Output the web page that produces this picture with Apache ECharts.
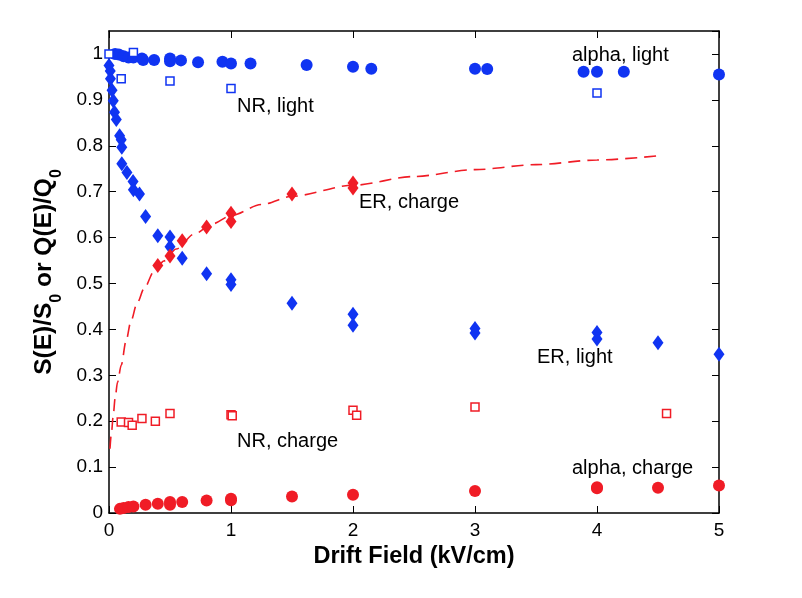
<!DOCTYPE html>
<html>
<head>
<meta charset="utf-8">
<script src="https://cdn.jsdelivr.net/npm/echarts@6/dist/echarts.min.js"></script>
<style>
html, body { margin: 0; padding: 0; background: #fff; }
#chart { width: 802px; height: 598px; }
</style>
</head>
<body>
<div id="chart"></div>
<script>
// values
var alphaLightX = [0.05, 0.08, 0.12, 0.16, 0.2, 0.27, 0.28, 0.37, 0.5, 0.5, 0.59, 0.73, 0.93, 1.0, 1.16, 1.62, 2.0, 2.15, 3.0, 3.1, 3.89, 4.0, 4.22, 5.0];
var alphaLightY = [1.0, 0.999, 0.995, 0.992, 0.992, 0.99, 0.987, 0.987, 0.99, 0.984, 0.986, 0.982, 0.983, 0.979, 0.979, 0.976, 0.972, 0.968, 0.968, 0.967, 0.961, 0.961, 0.961, 0.955];

var nrLightX = [0, 0.1, 0.2, 0.5, 1.0, 4.0];
var nrLightY = [1.0, 0.946, 1.003, 0.941, 0.925, 0.915];

var erLightX = [0, 0.01, 0.012, 0.025, 0.035, 0.045, 0.06, 0.087, 0.1, 0.105, 0.105, 0.147, 0.197, 0.2, 0.25, 0.3, 0.4, 0.5, 0.5, 0.6, 0.8, 1.0, 1.0, 1.5, 2.0, 2.0, 3.0, 3.0, 4.0, 4.0, 4.5, 5.0];
var erLightY = [0.975, 0.963, 0.946, 0.921, 0.898, 0.873, 0.857, 0.822, 0.813, 0.797, 0.761, 0.742, 0.722, 0.704, 0.695, 0.646, 0.604, 0.601, 0.58, 0.555, 0.521, 0.508, 0.498, 0.457, 0.433, 0.409, 0.402, 0.392, 0.393, 0.379, 0.371, 0.346];

var erChargeX = [0.4, 0.5, 0.6, 0.8, 1.0, 1.0, 1.5, 2.0, 2.0];
var erChargeY = [0.539, 0.56, 0.593, 0.623, 0.653, 0.635, 0.695, 0.719, 0.708];

var nrChargeX = [0.1, 0.16, 0.19, 0.27, 0.38, 0.5, 1.0, 1.01, 2.0, 2.03, 3.0, 4.57];
var nrChargeY = [0.198, 0.197, 0.191, 0.206, 0.2, 0.217, 0.214, 0.212, 0.224, 0.213, 0.231, 0.217];

var alphaChargeX = [0.09, 0.12, 0.16, 0.2, 0.3, 0.4, 0.5, 0.5, 0.6, 0.8, 1.0, 1.0, 1.5, 2.0, 3.0, 4.0, 4.0, 4.5, 5.0];
var alphaChargeY = [0.009, 0.011, 0.013, 0.014, 0.018, 0.02, 0.018, 0.024, 0.024, 0.027, 0.031, 0.028, 0.036, 0.04, 0.048, 0.056, 0.054, 0.055, 0.06];

// dashed ER charge curve, traced point by point
var fitX = [0.008, 0.02, 0.035, 0.05, 0.07, 0.1, 0.14, 0.18, 0.23, 0.29, 0.37, 0.45, 0.55, 0.7, 0.85, 1.0, 1.25, 1.5, 2.0, 2.5, 3.0, 3.5, 4.0, 4.5];
var fitY = [0.14, 0.175, 0.213, 0.25, 0.285, 0.322, 0.375, 0.418, 0.457, 0.49, 0.527, 0.549, 0.575, 0.608, 0.63, 0.648, 0.672, 0.69, 0.714, 0.733, 0.748, 0.759, 0.769, 0.778];

var xTicks = [0, 1, 2, 3, 4, 5];

function pairs(xs, ys) {
	var out = [];
	for (var i = 0; i < xs.length; i++) {
		out.push([xs[i], ys[i]]);
	}
	return out;
}

var blue = '#1034f2';
var red = '#f01c26';
var font = 'Liberation Sans, Arial, Helvetica, sans-serif';

function note(text, x, y) {
	return {
		type: 'text',
		style: {
			x: x,
			y: y,
			text: text,
			font: '20px ' + font,
			fill: '#000',
			verticalAlign: 'middle'
		}
	};
}

var myChart = echarts.init(document.getElementById('chart'));
var option = {
	animation: false,
	backgroundColor: '#fff',
	grid: {
		left: 109,
		right: 83,
		top: 31,
		bottom: 85
	},
	xAxis: [{
		type: 'value',
		min: 0,
		max: 5,
		interval: 1,
		name: 'Drift Field (kV/cm)',
		nameLocation: 'middle',
		nameGap: 30,
		nameTextStyle: {
			fontFamily: font,
			fontWeight: 'bold',
			fontSize: 23.5,
			color: '#000'
		},
		axisLine: { onZero: false, lineStyle: { color: '#000', width: 1.5 } },
		axisTick: { inside: true, length: 7, lineStyle: { color: '#000' } },
		axisLabel: {
			margin: 8,
			fontFamily: font,
			fontSize: 19,
			color: '#000',
			formatter: function(v) {
				return xTicks.indexOf(v) >= 0 ? String(v) : '';
			}
		},
		splitLine: { show: false }
	}, {
		type: 'value',
		position: 'top',
		min: 0,
		max: 5,
		interval: 1,
		axisLine: { onZero: false, lineStyle: { color: '#000', width: 1.5 } },
		axisTick: { inside: true, length: 7, lineStyle: { color: '#000' } },
		axisLabel: { show: false },
		splitLine: { show: false }
	}],
	yAxis: [{
		type: 'value',
		min: 0,
		max: 1.05,
		interval: 0.1,
		name: '{m|S(E)/S}{s|0}{m| or Q(E)/Q}{s|0}',
		nameLocation: 'middle',
		nameRotate: 90,
		nameGap: 44,
		nameTextStyle: {
			rich: {
				m: {
					fontFamily: font,
					fontWeight: 'bold',
					fontSize: 24.5,
					color: '#000',
					padding: [0, 0, 8, 0]
				},
				s: {
					fontFamily: font,
					fontWeight: 'bold',
					fontSize: 16,
					color: '#000',
					verticalAlign: 'bottom'
				}
			}
		},
		axisLine: { onZero: false, lineStyle: { color: '#000', width: 1.5 } },
		axisTick: { inside: true, length: 7, lineStyle: { color: '#000' } },
		axisLabel: {
			margin: 6,
			showMaxLabel: false,
			fontFamily: font,
			fontSize: 19,
			color: '#000'
		},
		splitLine: { show: false }
	}, {
		type: 'value',
		position: 'right',
		min: 0,
		max: 1.05,
		interval: 0.1,
		axisLine: { onZero: false, lineStyle: { color: '#000', width: 1.5 } },
		axisTick: { inside: true, length: 7, lineStyle: { color: '#000' } },
		axisLabel: { show: false },
		splitLine: { show: false }
	}],
	series: [{
		name: 'ER charge fit',
		type: 'line',
		data: pairs(fitX, fitY),
		showSymbol: false,
		smooth: 0.3,
		smoothMonotone: 'x',
		lineStyle: { color: red, width: 1.6, type: [12, 7] },
		z: 1
	}, {
		name: 'alpha, light',
		type: 'scatter',
		data: pairs(alphaLightX, alphaLightY),
		symbol: 'circle',
		symbolSize: 12,
		itemStyle: { color: blue, opacity: 1 }
	}, {
		name: 'NR, light',
		type: 'scatter',
		data: pairs(nrLightX, nrLightY),
		symbol: 'rect',
		symbolSize: 8,
		itemStyle: { color: '#fff', borderColor: blue, borderWidth: 1.5, opacity: 1 }
	}, {
		name: 'ER, light',
		type: 'scatter',
		data: pairs(erLightX, erLightY),
		symbol: 'diamond',
		symbolSize: [11, 15],
		itemStyle: { color: blue, opacity: 1 }
	}, {
		name: 'ER, charge',
		type: 'scatter',
		data: pairs(erChargeX, erChargeY),
		symbol: 'diamond',
		symbolSize: [11, 15],
		itemStyle: { color: red, opacity: 1 }
	}, {
		name: 'NR, charge',
		type: 'scatter',
		data: pairs(nrChargeX, nrChargeY),
		symbol: 'rect',
		symbolSize: 8,
		itemStyle: { color: '#fff', borderColor: red, borderWidth: 1.5, opacity: 1 }
	}, {
		name: 'alpha, charge',
		type: 'scatter',
		data: pairs(alphaChargeX, alphaChargeY),
		symbol: 'circle',
		symbolSize: 12,
		itemStyle: { color: red, opacity: 1 }
	}],
	graphic: [
		note('NR, light', 237, 106),
		note('alpha, light', 572, 55),
		note('ER, charge', 359, 202),
		note('ER, light', 537, 357),
		note('NR, charge', 237, 441),
		note('alpha, charge', 572, 468)
	]
};
myChart.setOption(option);
</script>
</body>
</html>
